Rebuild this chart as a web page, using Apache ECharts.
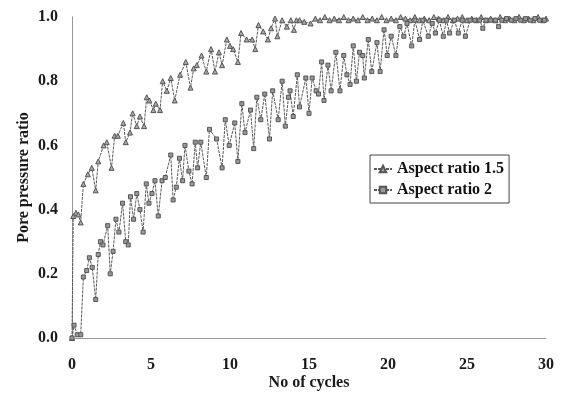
<!DOCTYPE html>
<html>
<head>
<meta charset="utf-8">
<script src="https://cdn.jsdelivr.net/npm/echarts@6/dist/echarts.min.js"></script>
<style>
  html, body { margin: 0; padding: 0; background: #fff; }
  #chart { width: 565px; height: 393px; }
</style>
</head>
<body>
<div id="chart"></div>
<script>
// values
var xTicks = [0, 5, 10, 15, 20, 25, 30];
var yTicks = [0.0, 0.2, 0.4, 0.6, 0.8, 1.0];

var seriesNames = ['Aspect ratio 1.5', 'Aspect ratio 2'];

var cycles15 = [0, 0.08, 0.25, 0.4, 0.55, 0.72, 1.0, 1.25, 1.5, 1.66, 2.0, 2.2, 2.5, 2.7, 2.9,
  3.25, 3.4, 3.67, 3.84, 4.1, 4.3, 4.56, 4.73, 4.9, 5.15, 5.3, 5.57, 5.74, 6.0, 6.25, 6.5,
  6.84, 7.2, 7.5, 7.7, 7.9, 8.2, 8.5, 8.8, 9.05, 9.3, 9.5, 9.8, 10.0, 10.2, 10.5, 10.7,
  11.05, 11.4, 11.6, 11.8, 12.1, 12.4, 12.6, 12.85, 13.0, 13.3, 13.6, 13.85, 14.05, 14.2,
  14.4, 14.7, 15.1, 15.4, 15.7, 16.0, 16.3, 16.6, 16.9, 17.2, 17.5, 17.8, 18.1, 18.4, 18.7,
  19.0, 19.3, 19.6, 19.9, 20.2, 20.5, 20.8, 21.1, 21.4, 21.7, 22.0, 22.3, 22.6, 22.9, 23.2,
  23.5, 23.8, 24.1, 24.4, 24.7, 25.0, 25.3, 25.6, 25.9, 26.2, 26.5, 26.8, 27.1, 27.4, 27.7,
  28.0, 28.3, 28.6, 28.9, 29.2, 29.5, 29.8, 30];
var ratio15 = [0, 0.38, 0.39, 0.385, 0.36, 0.48, 0.51, 0.53, 0.46, 0.55, 0.60, 0.61, 0.53, 0.63, 0.63,
  0.67, 0.61, 0.64, 0.70, 0.66, 0.69, 0.66, 0.75, 0.74, 0.71, 0.73, 0.71, 0.80, 0.77, 0.81, 0.74,
  0.82, 0.86, 0.78, 0.84, 0.85, 0.88, 0.83, 0.90, 0.83, 0.89, 0.85, 0.93, 0.91, 0.90, 0.86, 0.95,
  0.93, 0.93, 0.90, 0.975, 0.955, 0.93, 0.965, 0.995, 0.94, 0.99, 0.97, 0.99, 0.96, 0.99,
  0.99, 0.985, 0.98, 0.995, 0.99, 1.0, 0.99, 0.995, 0.99, 1.0, 0.99, 0.995, 0.99, 1.0, 0.99,
  0.995, 0.99, 1.0, 0.99, 0.995, 0.99, 1.0, 0.995, 0.99, 1.0, 0.99, 0.995, 0.99, 1.0, 0.995,
  0.99, 1.0, 0.99, 0.995, 1.0, 0.99, 0.995, 0.99, 1.0, 0.99, 0.995, 0.99, 1.0, 0.99, 0.995,
  0.99, 1.0, 0.99, 0.995, 0.99, 1.0, 0.99, 0.995];

var cycles2 = [0, 0.13, 0.33, 0.55, 0.72, 0.93, 1.1, 1.28, 1.5, 1.66, 1.8, 1.96, 2.26, 2.42, 2.6,
  2.78, 2.97, 3.2, 3.4, 3.56, 3.7, 3.9, 4.1, 4.3, 4.5, 4.7, 4.87, 5.06, 5.25, 5.46, 5.7, 5.9,
  6.25, 6.4, 6.6, 6.8, 7.0, 7.15, 7.4, 7.6, 7.8, 7.95, 8.15, 8.5, 8.7, 9.15, 9.5, 9.7, 9.95,
  10.3, 10.5, 10.75, 10.95, 11.3, 11.5, 11.7, 11.95, 12.2, 12.5, 12.7, 13.05, 13.3, 13.5,
  13.7, 13.8, 14.0, 14.26, 14.4, 14.8, 15.0, 15.2, 15.45, 15.6, 15.8, 15.95, 16.2, 16.4,
  16.7, 16.96, 17.2, 17.4, 17.6, 17.8, 18.0, 18.2, 18.4, 18.5, 18.75, 18.97, 19.3, 19.5,
  19.75, 19.95, 20.2, 20.5, 20.75, 21.0, 21.2, 21.5, 21.7, 22.0, 22.2, 22.55, 22.8, 23.0,
  23.25, 23.5, 23.7, 23.9, 24.2, 24.45, 24.7, 24.9, 25.2, 25.5, 25.8, 26.0, 26.2, 26.5,
  26.8, 27.0, 27.2, 27.5, 27.8, 28.1, 28.4, 28.7, 29.0, 29.3, 29.6, 29.9];
var ratio2 = [0, 0.04, 0.01, 0.01, 0.19, 0.21, 0.25, 0.22, 0.12, 0.26, 0.30, 0.29, 0.35, 0.20, 0.27,
  0.37, 0.33, 0.42, 0.30, 0.29, 0.44, 0.37, 0.45, 0.40, 0.33, 0.48, 0.42, 0.45, 0.49, 0.38, 0.49, 0.50,
  0.57, 0.43, 0.47, 0.56, 0.49, 0.60, 0.52, 0.48, 0.61, 0.53, 0.61, 0.50, 0.65, 0.62, 0.53, 0.68, 0.60,
  0.67, 0.55, 0.73, 0.64, 0.71, 0.59, 0.75, 0.68, 0.76, 0.62, 0.77, 0.68, 0.80, 0.66,
  0.75, 0.77, 0.69, 0.82, 0.72, 0.81, 0.70, 0.81, 0.77, 0.76, 0.86, 0.74, 0.85, 0.77,
  0.89, 0.77, 0.88, 0.82, 0.79, 0.91, 0.80, 0.89, 0.88, 0.81, 0.93, 0.83, 0.92, 0.83,
  0.96, 0.88, 0.94, 0.88, 0.97, 0.94, 0.98, 0.91, 0.99, 0.93, 0.99, 0.94, 0.98, 0.95,
  0.99, 0.94, 0.99, 0.95, 0.99, 0.95, 0.99, 0.94, 0.99, 0.99, 0.99, 0.965, 0.99, 0.99,
  0.99, 0.97, 0.99, 0.995, 0.99, 0.995, 0.99, 0.995, 0.99, 0.995, 0.99, 0.99];

var pairs = function (xs, ys) {
  return xs.map(function (x, i) { return [x, ys[i]]; });
};

var serif = '"Liberation Serif", "DejaVu Serif", serif';
var textStyle = { fontFamily: serif, fontWeight: 'bold', color: '#1a1a1a' };

var myChart = echarts.init(document.getElementById('chart'));
var option = {
  animation: false,
  backgroundColor: '#fff',
  grid: { left: 72, right: 19, top: 17, bottom: 55, outerBoundsMode: 'none', containLabel: false },
  legend: {
    left: 370,
    top: 155,
    orient: 'vertical',
    itemGap: 5,
    itemWidth: 18,
    itemHeight: 8,
    padding: [6, 5, 5, 3],
    borderColor: '#444',
    borderWidth: 1,
    backgroundColor: '#fff',
    textStyle: { fontFamily: serif, fontWeight: 'bold', fontSize: 16, color: '#111' },
    data: seriesNames
  },
  xAxis: [{
    type: 'value',
    min: 0, max: 30, interval: 5,
    name: 'No of cycles',
    nameLocation: 'middle',
    nameGap: 37,
    nameMoveOverlap: false,
    nameTextStyle: Object.assign({ fontSize: 16 }, textStyle),
    axisLine: { lineStyle: { color: '#aaa', type: [3, 3], width: 1 } },
    axisTick: { show: false },
    axisLabel: Object.assign({ fontSize: 16, margin: 19, formatter: function (v) {
      return xTicks.indexOf(v) >= 0 ? String(v) : '';
    } }, textStyle),
    splitLine: { show: false }
  }, {
    type: 'value', position: 'top',
    min: 0, max: 30,
    axisLine: { show: true, lineStyle: { color: '#999', width: 1 } },
    axisTick: { show: false }, axisLabel: { show: false }, splitLine: { show: false }
  }],
  yAxis: [{
    type: 'value',
    min: 0, max: 1, interval: 0.2,
    name: 'Pore pressure ratio',
    nameLocation: 'middle',
    nameGap: 40,
    nameMoveOverlap: false,
    nameRotate: 90,
    nameTextStyle: Object.assign({ fontSize: 16 }, textStyle),
    axisLine: { show: true, lineStyle: { color: '#bbb', type: [2, 3], width: 1 } },
    axisTick: { show: false },
    axisLabel: Object.assign({ fontSize: 16, margin: 14, formatter: function (v) {
      return v.toFixed(1);
    } }, textStyle),
    splitLine: { show: false }
  }, {
    type: 'value', position: 'right',
    min: 0, max: 1,
    axisLine: { show: true, lineStyle: { color: '#999', width: 1 } },
    axisTick: { show: false }, axisLabel: { show: false }, splitLine: { show: false }
  }],
  series: [{
    name: seriesNames[0],
    type: 'line',
    data: pairs(cycles15, ratio15),
    symbol: 'triangle',
    symbolSize: 5,
    itemStyle: { color: '#aaa', borderColor: '#555', borderWidth: 1 },
    lineStyle: { color: '#5a5a5a', width: 1, type: [3, 1] }
  }, {
    name: seriesNames[1],
    type: 'line',
    data: pairs(cycles2, ratio2),
    symbol: 'rect',
    symbolSize: 4,
    itemStyle: { color: '#999', borderColor: '#555', borderWidth: 1 },
    lineStyle: { color: '#5a5a5a', width: 1, type: [3, 1] }
  }]
};
myChart.setOption(option);
</script>
</body>
</html>
